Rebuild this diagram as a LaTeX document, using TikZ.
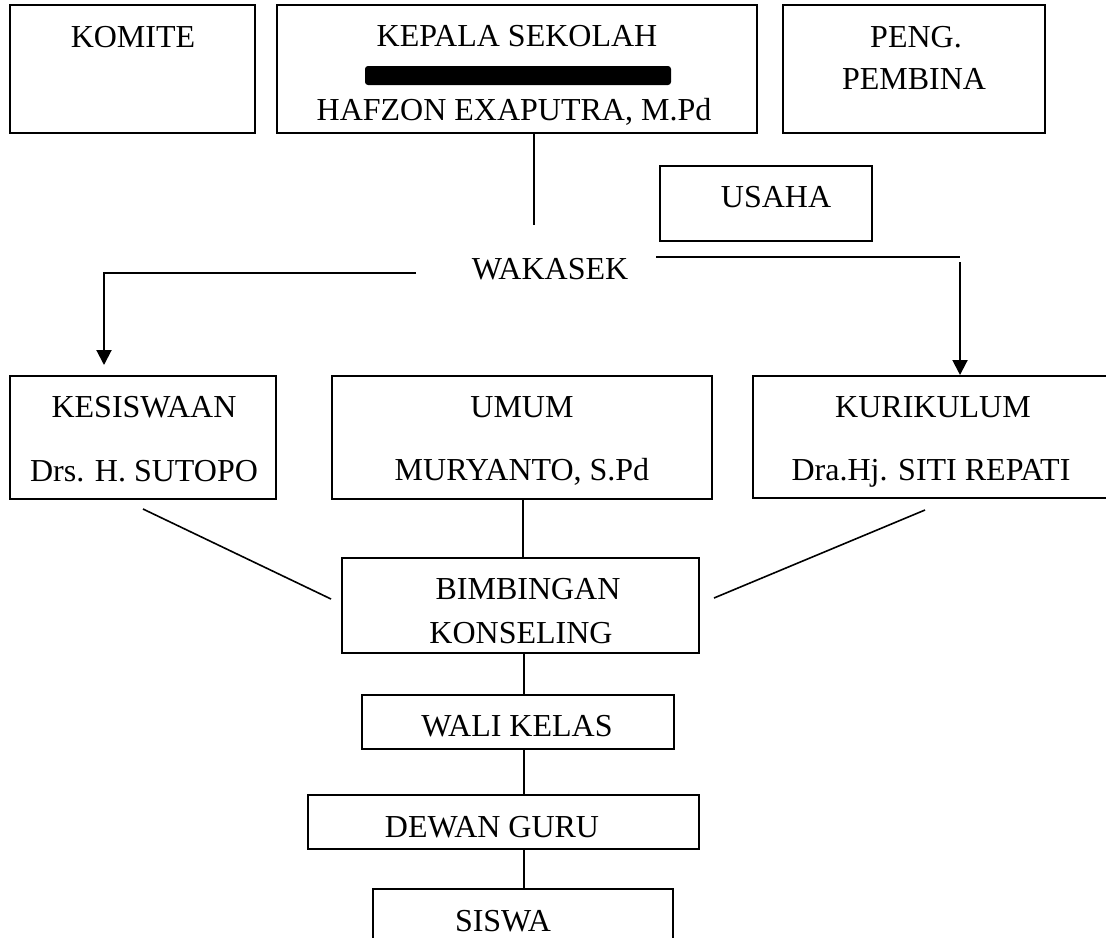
\documentclass[tikz,border=0pt]{standalone}
\usepackage{fontspec}
\setmainfont{Liberation Serif}
\usetikzlibrary{fit,arrows.meta}
\tikzset{
  box/.style={draw=black, line width=1pt, inner sep=0pt},
  txt/.style={anchor=base, inner sep=0pt, font=\fontsize{16}{19}\selectfont},
  link/.style={draw=black, line width=0.8pt},
  arr/.style={draw=black, line width=1pt, -{Triangle[length=7.5pt,width=7.5pt]}}
}
\begin{document}
\begin{tikzpicture}[x=0.5pt,y=-0.5pt]
\useasboundingbox (0,0) rectangle (1106,937);
\clip (0,0) rectangle (1106,937);
% boxes
\node[box, fit={(10,5) (255,133)}] (komite) {};
\node[box, fit={(277,5) (757,133)}] (kepala) {};
\node[box, fit={(783,5) (1045,133)}] (peng) {};
\node[box, fit={(660,166) (872,241)}] (usaha) {};
\node[box, fit={(10,376) (276,499)}] (kes) {};
\node[box, fit={(332,376) (712,499)}] (umum) {};
\node[box, fit={(753,376) (1109,498)}] (kur) {};
\node[box, fit={(342,558) (699,653)}] (bk) {};
\node[box, fit={(362,695) (674,749)}] (wali) {};
\node[box, fit={(308,795) (699,849)}] (dewan) {};
\node[box, fit={(373,889) (673,970)}] (siswa) {};
% redaction bar
\node[fill=black, inner sep=0pt, rounded corners=1.5pt, fit={(365,66) (671,85)}] (bar) {};
% texts
\node[txt] (tkomite) at (133,47) {KOMITE};
\node[txt] (tkepala) at (517,46) {KEPALA SEKOLAH};
\node[txt] (thafzon) at (514,120) {HAFZON EXAPUTRA, M.Pd};
\node[txt] (tpeng) at (916,47) {PENG.};
\node[txt] (tpembina) at (914,89) {PEMBINA};
\node[txt] (tusaha) at (776,207) {USAHA};
\node[txt] (twakasek) at (550,279) {WAKASEK};
\node[txt] (tkes) at (144,417) {KESISWAAN};
\node[txt] (tsutopo) at (144,481) {Drs. H. SUTOPO};
\node[txt] (tumum) at (522,417) {UMUM};
\node[txt] (tmury) at (522,480) {MURYANTO, S.Pd};
\node[txt] (tkur) at (933,417) {KURIKULUM};
\node[txt] (tsiti) at (931,480) {Dra.Hj. SITI REPATI};
\node[txt] (tbim) at (528,599) {BIMBINGAN};
\node[txt] (tkons) at (521,643) {KONSELING};
\node[txt] (twali) at (517,736) {WALI KELAS};
\node[txt] (tdewan) at (492,837) {DEWAN GURU};
\node[txt] (tsiswa) at (503,931) {SISWA};
% coordinates for free ends
\coordinate (kepEnd) at (534,225);
\coordinate (wl) at (416,273);
\coordinate (lcorner) at (104,273);
\coordinate (ltip) at (104,365);
\coordinate (wr) at (656,257);
\coordinate (rcorner) at (960,257);
\coordinate (rstart) at (960,262);
\coordinate (dl1) at (143,509);
\coordinate (dl2) at (331,599);
\coordinate (dr1) at (925,510);
\coordinate (dr2) at (714,598);
% connectors
\draw[link] (kepala.south -| kepEnd) -- (kepEnd);
\draw[arr] (wl) -- (lcorner) -- (ltip);
\draw[link, line width=1pt] (wr) -- (rcorner);
\draw[arr] (rstart) -- (rstart |- kur.north);
\draw[link] (dl1) -- (dl2);
\draw[link] (dr1) -- (dr2);
\draw[link] (umum.south -| 523,0) -- (bk.north -| 523,0);
\draw[link] (bk.south -| 524,0) -- (wali.north -| 524,0);
\draw[link] (wali.south -| 524,0) -- (dewan.north -| 524,0);
\draw[link] (dewan.south -| 524,0) -- (siswa.north -| 524,0);
\end{tikzpicture}
\end{document}
